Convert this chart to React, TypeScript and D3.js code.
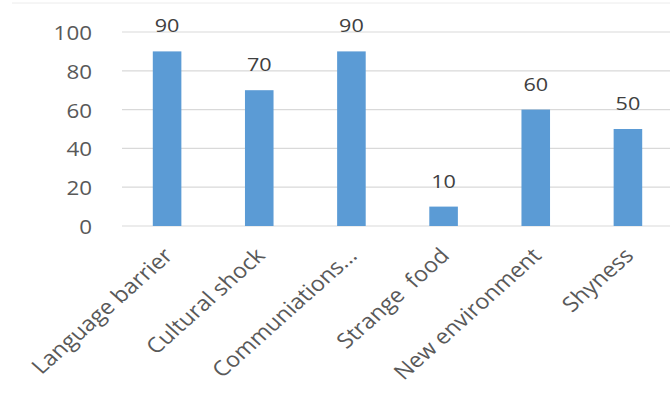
import React from "react";
import * as d3 from "d3";

const categories = ["Language barrier", "Cultural shock", "Communiations...", "Strange  food", "New environment", "Shyness"];
const values = [90, 70, 90, 10, 60, 50];
const yTicks = [0, 20, 40, 60, 80, 100];

const W = 670;
const H = 394;
const FONT = "'Open Sans', 'Noto Sans', sans-serif";
const SX = 1.2;

export default function App() {
  const x = d3.scaleBand<string>().domain(categories).range([121, 674]).padding(0);
  const y = d3.scaleLinear().domain([0, 100]).range([226, 32]);
  const bw = x.bandwidth() * 0.31;

  return (
    <svg width={W} height={H} style={{ position: "absolute", left: 0, top: 0, background: "#fff" }}>
      <line x1={12} x2={W} y1={3} y2={3} stroke="#ececec" strokeWidth={1} />
      {yTicks.map((t) => (
        <g key={t}>
          <line x1={122} x2={W} y1={y(t)} y2={y(t)} stroke="#d9d9d9" strokeWidth={1.2} />
          <text
            transform={`translate(92,${y(t)}) scale(1.12,1)`}
            textAnchor="end"
            dominantBaseline="central"
            fontFamily={FONT}
            fontSize={20}
            fill="#595959"
          >
            {t}
          </text>
        </g>
      ))}
      {categories.map((c, i) => {
        const cx = (x(c) as number) + x.bandwidth() / 2;
        return (
          <g key={c}>
            <rect x={cx - bw / 2} y={y(values[i])} width={bw} height={y(0) - y(values[i])} fill="#5B9BD5" />
            <text
              transform={`translate(${cx},${y(values[i]) - 19}) scale(${SX},1)`}
              textAnchor="middle"
              fontFamily={FONT}
              fontSize={18}
              fill="#404040"
            >
              {values[i]}
            </text>
            <text
              transform={`translate(${cx + 7},257) scale(1.12,1) rotate(-45)`}
              textAnchor="end"
              fontFamily={FONT}
              fontSize={21}
              fill="#595959"
              style={{ whiteSpace: "pre" }}
            >
              {c}
            </text>
          </g>
        );
      })}
    </svg>
  );
}
